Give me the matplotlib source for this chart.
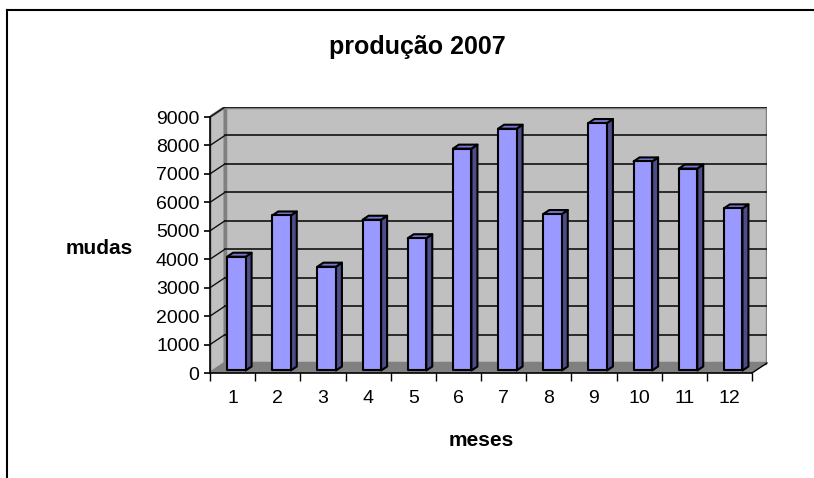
import matplotlib
matplotlib.use("Agg")
import matplotlib.pyplot as plt
from matplotlib.patches import Polygon
from matplotlib.lines import Line2D

# ---- data ----
months = [1, 2, 3, 4, 5, 6, 7, 8, 9, 10, 11, 12]
mudas = [4000, 5450, 3650, 5300, 4650, 7800, 8500, 5500, 8700, 7350, 7100, 5700]
yticks = [0, 1000, 2000, 3000, 4000, 5000, 6000, 7000, 8000, 9000]
title = "produção 2007"
xlabel = "meses"
ylabel = "mudas"

plt.rcParams['font.family'] = ['Liberation Sans', 'DejaVu Sans']

W, H = 814, 478
fig = plt.figure(figsize=(W / 100, H / 100), dpi=100)

# pixel geometry of the 3D box
px_left, px_front_bottom = 210, 373
px_right_back, px_top_back = 767, 107
cat_px = 45.17
val_px = 28.44 / 1000.0
DX = 15 / cat_px           # depth offset in category units
DY = 10 / val_px           # depth offset in value units
YMAX = 9000

ax = fig.add_axes([px_left / W, (H - px_front_bottom) / H,
                   (px_right_back - px_left) / W, (px_front_bottom - px_top_back) / H])
ax.set_xlim(0.5, 12.5 + DX)
ax.set_ylim(0, YMAX + DY)
ax.set_facecolor('none')

wall = '#C0C0C0'
wall_edge = '#808080'
x0, x1 = 0.5, len(months) + 0.5

# side wall
ax.add_patch(Polygon([(x0, 0), (x0 + DX, DY), (x0 + DX, YMAX + DY), (x0, YMAX)],
                     closed=True, facecolor=wall, edgecolor=wall_edge, lw=2, zorder=1))
# back wall
ax.add_patch(Polygon([(x0 + DX, DY), (x1 + DX, DY), (x1 + DX, YMAX + DY), (x0 + DX, YMAX + DY)],
                     closed=True, facecolor=wall, edgecolor=wall_edge, lw=2.5, zorder=1))
# floor
ax.add_patch(Polygon([(x0, 0), (x1, 0), (x1 + DX, DY), (x0 + DX, DY)],
                     closed=True, facecolor='#808080', edgecolor='none', zorder=2))
ax.plot([x1, x1 + DX], [0, DY], color='black', lw=1, zorder=2, clip_on=False)

# gridlines
for t in yticks[1:]:
    ax.plot([x0 + DX, x1 + DX], [t + DY, t + DY], color='#111111', lw=1.2, zorder=2)
    ax.plot([x0, x0 + DX], [t, t + DY], color='#111111', lw=1.0, zorder=2)

# bars
bw = 0.41
d0, d1 = 0.25, 0.65
front = '#9999FF'
side = '#4D4D88'
top = '#7777CC'
for m, v in zip(months, mudas):
    xl = m - bw / 2 + d0 * DX
    xr = m + bw / 2 + d0 * DX
    yb = d0 * DY
    yt = yb + v
    ddx, ddy = (d1 - d0) * DX, (d1 - d0) * DY
    kw = dict(closed=True, edgecolor='black', lw=1.5, joinstyle='round', zorder=3)
    ax.add_patch(Polygon([(xr, yb), (xr + ddx, yb + ddy), (xr + ddx, yt + ddy), (xr, yt)],
                         facecolor=side, **kw))
    ax.add_patch(Polygon([(xl, yt), (xr, yt), (xr + ddx, yt + ddy), (xl + ddx, yt + ddy)],
                         facecolor=top, **kw))
    ax.add_patch(Polygon([(xl, yb), (xr, yb), (xr, yt), (xl, yt)],
                         facecolor=front, **kw))

# axes / spines
for s in ['top', 'right']:
    ax.spines[s].set_visible(False)
ax.spines['left'].set_bounds(0, YMAX)
ax.spines['bottom'].set_bounds(x0, x1)
for s in ['left', 'bottom']:
    ax.spines[s].set_linewidth(1.2)
    ax.spines[s].set_zorder(4)

ax.set_yticks(yticks)
ax.set_yticklabels([str(t) for t in yticks], fontsize=14)
ax.tick_params(axis='y', direction='out', length=4.5, width=1.2, pad=3)

ax.set_xticks([i + 0.5 for i in range(len(months) + 1)])
ax.set_xticklabels([])
ax.tick_params(axis='x', which='major', direction='out', length=5.5, width=1)
ax.set_xticks(months, minor=True)
ax.set_xticklabels([str(m) for m in months], minor=True, fontsize=14)
ax.tick_params(axis='x', which='minor', length=0, pad=12)

# texts
fig.text(417 / W, 1 - 47 / H, title, ha='center', va='center', fontsize=18, fontweight='bold')
fig.text(99 / W, 1 - 249 / H, ylabel, ha='center', va='center', fontsize=15, fontweight='bold')
fig.text(481 / W, 1 - 440 / H, xlabel, ha='center', va='center', fontsize=15, fontweight='bold')

# chart area border
fig.add_artist(Line2D([7 / W, 7 / W], [0, 1 - 10 / H], transform=fig.transFigure, color='black', lw=1.5))
fig.add_artist(Line2D([7 / W, 1], [1 - 10 / H, 1 - 10 / H], transform=fig.transFigure, color='black', lw=1.5))

fig.savefig('out.png', dpi=100, facecolor='white')
